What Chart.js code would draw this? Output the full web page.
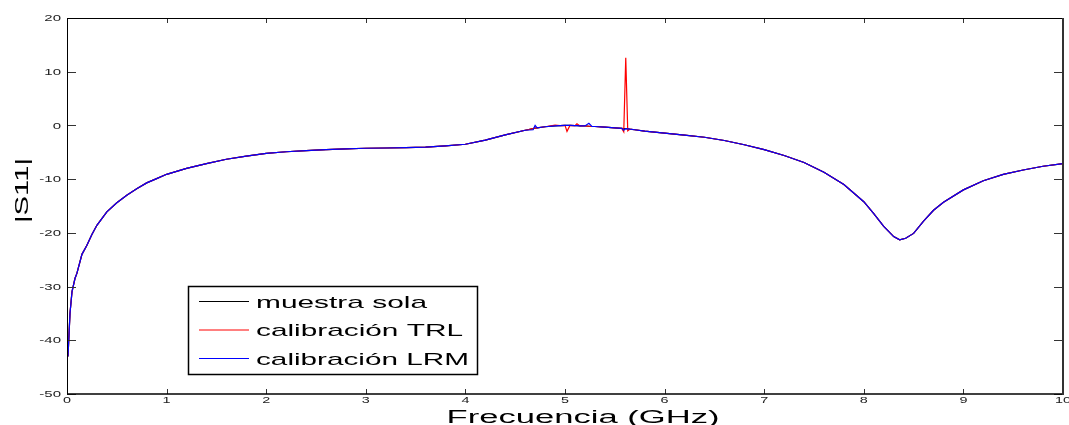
<!DOCTYPE html>
<html>
<head>
<meta charset="utf-8">
<script src="https://cdn.jsdelivr.net/npm/chart.js@4.4.1/dist/chart.umd.min.js"></script>
<style>
html,body{margin:0;padding:0;background:#fff;}
#wrap{width:1069px;height:425px;position:relative;}
</style>
</head>
<body>
<div id="wrap"><canvas id="c" width="1069" height="425"></canvas></div>
<script>
const freq = [0.01,0.03,0.05,0.08,0.1, 0.15,0.2,0.25,0.3,0.4, 0.5,0.6,0.7,0.8,0.9, 1.0,1.2,1.4,1.6,1.8,
  2.0,2.2,2.4,2.6,2.8, 3.0,3.2,3.4,3.6,3.8, 4.0,4.2,4.4,4.6,4.68, 4.7,4.72,4.8,4.9,4.95,
  5.0,5.02,5.05,5.1,5.12, 5.15,5.2,5.24,5.27,5.3, 5.4,5.5,5.57,5.59,5.61, 5.63,5.65,5.7,5.8,5.9,
  6.0,6.2,6.4,6.6,6.8, 7.0,7.2,7.4,7.6,7.8, 8.0,8.1,8.2,8.3,8.36, 8.42,8.5,8.6,8.7,8.8,
  9.0,9.2,9.4,9.6,9.8, 10.0];

const muestraSola = [-43,-35,-31,-28.5,-27.5, -24,-22.3,-20.3,-18.6,-16.1, -14.4,-13.0,-11.8,-10.7,-9.9, -9.1,-8.0,-7.1,-6.3,-5.7,
  -5.2,-4.9,-4.7,-4.5,-4.35, -4.25,-4.2,-4.15,-4.05,-3.8, -3.5,-2.75,-1.75,-0.9,-0.6, -0.5,-0.45,-0.25,-0.1,-0.05,
  0,0,0,-0.05,-0.05, -0.1,-0.1,-0.15,-0.2,-0.2, -0.3,-0.45,-0.55,-0.6,-0.6, -0.65,-0.7,-0.8,-1.05,-1.25,
  -1.45,-1.8,-2.2,-2.8,-3.6, -4.5,-5.6,-6.9,-8.7,-11.0, -14.2,-16.4,-18.8,-20.7,-21.3, -21.0,-20.1,-17.8,-15.8,-14.3,
  -12.0,-10.3,-9.1,-8.3,-7.6, -7.1];

const calTRL = [-43,-35,-31,-28.5,-27.5, -24,-22.3,-20.3,-18.6,-16.1, -14.4,-13.0,-11.8,-10.7,-9.9, -9.1,-8.0,-7.1,-6.3,-5.7,
  -5.2,-4.9,-4.7,-4.5,-4.35, -4.25,-4.2,-4.15,-4.05,-3.8, -3.5,-2.75,-1.75,-0.9,-0.6, -0.5,-0.45,-0.25,0.05,-0.05,
  0,-1.1,0,-0.05,0.3, -0.1,-0.1,-0.15,-0.2,-0.2, -0.3,-0.45,-0.55,-1.2,12.6, -1.0,-0.7,-0.8,-1.05,-1.25,
  -1.45,-1.8,-2.2,-2.8,-3.6, -4.5,-5.6,-6.9,-8.7,-11.0, -14.2,-16.4,-18.8,-20.7,-21.3, -21.0,-20.1,-17.8,-15.8,-14.3,
  -12.0,-10.3,-9.1,-8.3,-7.6, -7.1];

const calLRM = [-43,-35,-31,-28.5,-27.5, -24,-22.3,-20.3,-18.6,-16.1, -14.4,-13.0,-11.8,-10.7,-9.9, -9.1,-8.0,-7.1,-6.3,-5.7,
  -5.2,-4.9,-4.7,-4.5,-4.35, -4.25,-4.2,-4.15,-4.05,-3.8, -3.5,-2.75,-1.75,-0.9,-0.8, 0,-0.45,-0.25,-0.1,-0.05,
  0,0,0,-0.05,-0.05, -0.1,-0.1,0.4,-0.2,-0.2, -0.3,-0.45,-0.55,-0.9,-0.6, -0.65,-0.7,-0.8,-1.05,-1.25,
  -1.45,-1.8,-2.2,-2.8,-3.6, -4.5,-5.6,-6.9,-8.7,-11.0, -14.2,-16.4,-18.8,-20.7,-21.3, -21.0,-20.1,-17.8,-15.8,-14.3,
  -12.0,-10.3,-9.1,-8.3,-7.6, -7.1];

const seriesNames = ['muestra sola', 'calibración TRL', 'calibración LRM'];
const xTicks = [0,1,2,3,4,5,6,7,8,9,10];
const yTicks = [-50,-40,-30,-20,-10,0,10,20];
const xTitle = 'Frecuencia (GHz)';
const yTitle = '|S11|';

const FONT = '"Liberation Sans", Arial, Helvetica, sans-serif';
const colors = ['#000000', '#ff0000', '#0000ff'];

function toPts(vals){ return freq.map((f,i)=>({x:f, y:vals[i]})); }

function drawText(ctx, txt, x, y, size, sx, align, rot){
  ctx.save();
  ctx.font = size + 'px ' + FONT;
  ctx.translate(x, y);
  if (rot) ctx.rotate(rot);
  ctx.scale(sx, 1);
  ctx.textAlign = align;
  ctx.textBaseline = 'alphabetic';
  ctx.fillText(txt, 0, 0);
  ctx.restore();
}
function drawTextW(ctx, txt, x, y, size, width, align, rot){
  ctx.save();
  ctx.font = size + 'px ' + FONT;
  const w = ctx.measureText(txt).width;
  ctx.restore();
  drawText(ctx, txt, x, y, size, width / w, align, rot);
}

const framePlugin = {
  id: 'frame',
  afterDraw(chart){
    const ctx = chart.ctx, a = chart.chartArea, xs = chart.scales.x, ys = chart.scales.y;
    ctx.save();
    // inward tick marks
    ctx.strokeStyle = '#333';
    ctx.lineWidth = 1;
    xTicks.forEach(v=>{
      const px = Math.round(xs.getPixelForValue(v)) + 0.5;
      ctx.beginPath();
      ctx.moveTo(px, a.bottom); ctx.lineTo(px, a.bottom - 5);
      ctx.moveTo(px, a.top); ctx.lineTo(px, a.top + 5);
      ctx.stroke();
    });
    yTicks.forEach(v=>{
      const py = Math.round(ys.getPixelForValue(v)) + 0.5;
      ctx.beginPath();
      ctx.moveTo(a.left, py); ctx.lineTo(a.left + 9, py);
      ctx.moveTo(a.right, py); ctx.lineTo(a.right - 9, py);
      ctx.stroke();
    });
    // box
    ctx.strokeStyle = '#000';
    ctx.lineWidth = 1;
    ctx.beginPath();
    ctx.moveTo(a.left + 0.5, a.top); ctx.lineTo(a.left + 0.5, a.bottom);
    ctx.moveTo(a.left, a.top + 0.5); ctx.lineTo(a.right, a.top + 0.5);
    ctx.stroke();
    ctx.lineWidth = 1.5;
    ctx.beginPath();
    ctx.moveTo(a.left, a.bottom); ctx.lineTo(a.right + 1, a.bottom);
    ctx.stroke();
    ctx.strokeStyle = '#333';
    ctx.lineWidth = 2;
    ctx.beginPath();
    ctx.moveTo(a.right, a.top); ctx.lineTo(a.right, a.bottom + 1);
    ctx.stroke();

    // tick labels
    ctx.fillStyle = '#222';
    yTicks.forEach(v=>{
      const py = ys.getPixelForValue(v);
      drawText(ctx, String(v), a.left - 6, py + 3.2, 9, 1.67, 'right');
    });
    xTicks.forEach(v=>{
      const px = xs.getPixelForValue(v);
      drawText(ctx, String(v), px, a.bottom + 9, 9, 1.6, 'center');
    });

    // axis titles
    ctx.fillStyle = '#000';
    drawTextW(ctx, xTitle, 446.5, 422.5, 17.5, 273, 'left');
    drawTextW(ctx, yTitle, 28, 190.5, 19, 65, 'center', -Math.PI/2);

    // legend
    const lx = 188, ly = 286, lw = 289, lh = 88;
    ctx.fillStyle = '#fff';
    ctx.fillRect(lx, ly, lw, lh);
    ctx.strokeStyle = '#000';
    ctx.lineWidth = 1.5;
    ctx.strokeRect(lx + 0.5, ly + 0.5, lw, lh);
    const rowY = [301.5, 330, 358.5];
    const baseY = [308.3, 336.3, 365];
    const widths = [171, 207, 213];
    seriesNames.forEach((n,i)=>{
      ctx.strokeStyle = colors[i];
      ctx.lineWidth = 1;
      ctx.beginPath();
      ctx.moveTo(199, rowY[i]); ctx.lineTo(249, rowY[i]);
      ctx.stroke();
      ctx.fillStyle = '#000';
      drawTextW(ctx, n, 256, baseY[i], 17, widths[i], 'left');
    });
    ctx.restore();
  }
};

new Chart(document.getElementById('c'), {
  type: 'line',
  data: {
    datasets: [
      {label: seriesNames[0], data: toPts(muestraSola), borderColor: colors[0], borderWidth: 1.2, pointRadius: 0, tension: 0, order: 3},
      {label: seriesNames[1], data: toPts(calTRL), borderColor: colors[1], borderWidth: 1.2, pointRadius: 0, tension: 0, order: 2},
      {label: seriesNames[2], data: toPts(calLRM), borderColor: colors[2], borderWidth: 1.2, pointRadius: 0, tension: 0, order: 1}
    ]
  },
  options: {
    responsive: false,
    animation: false,
    devicePixelRatio: 1,
    layout: {padding: {left: 0, right: 6, top: 18, bottom: 0}},
    plugins: {legend: {display: false}, tooltip: {enabled: false}},
    scales: {
      x: {
        type: 'linear', min: 0, max: 10,
        ticks: {display: false, stepSize: 1},
        grid: {display: false},
        border: {display: false},
        afterFit(s){ s.height = 31; }
      },
      y: {
        type: 'linear', min: -50, max: 20,
        ticks: {display: false, stepSize: 10},
        grid: {display: false},
        border: {display: false},
        afterFit(s){ s.width = 67; }
      }
    }
  },
  plugins: [framePlugin]
});
</script>
</body>
</html>
